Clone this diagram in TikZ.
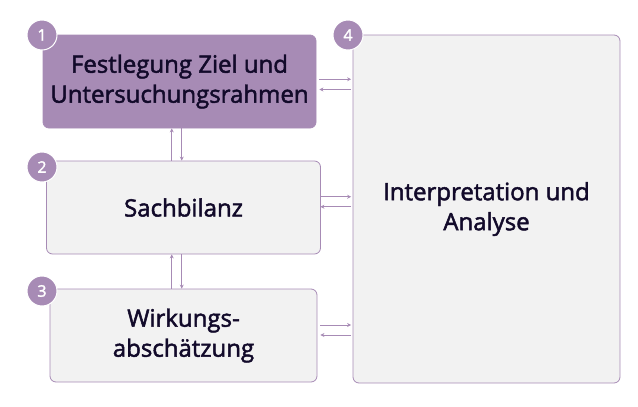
\documentclass[tikz,border=0pt]{standalone}
\usepackage{fontspec}
\setmainfont{Open Sans}
\newfontfamily\kastenschrift{Open Sans}[FakeBold=2]
\usetikzlibrary{arrows.meta}
\definecolor{lila}{HTML}{A78BB5}
\definecolor{grau}{HTML}{F2F2F2}
\definecolor{tinte}{HTML}{120A2A}

\begin{document}
\begin{tikzpicture}[x=1pt, y=-1pt,
  box/.style={draw=lila, line width=0.8pt, fill=grau, rounded corners=6pt, align=center,
    text=tinte, font=\kastenschrift\fontsize{24}{30}\selectfont, inner sep=0pt},
  nummer/.style={circle, fill=lila, draw=white, line width=1pt, minimum size=30pt, inner sep=0pt,
    text=white, font=\kastenschrift\fontsize{16}{16}\selectfont},
  pfeil/.style={draw=lila, line width=0.8pt, -{Stealth[length=4pt,width=4pt]}}]
  \useasboundingbox (0,0) rectangle (638,407);
  \node[box, fill=lila, minimum width=273pt, minimum height=93pt] (b1) at (179.5, 81.5) {Festlegung Ziel und\\Untersuchungsrahmen};
  \node[box, minimum width=274pt, minimum height=93pt] (b2) at (183.5, 207.5) {Sachbilanz};
  \node[box, minimum width=267pt, minimum height=93pt] (b3) at (183.5, 335.5) {Wirkungs-\\abschätzung};
  \node[box, minimum width=267pt, minimum height=348pt] (b4) at (486.5, 209) {Interpretation und\\Analyse};
  \node[nummer] (n1) at (42, 35) {1};
  \node[nummer] (n2) at (42, 167) {2};
  \node[nummer] (n3) at (42, 291) {3};
  \node[nummer] (n4) at (348, 35) {4};
  \draw[pfeil] ([xshift=3pt, yshift=2.2pt]b1.east) -- ([xshift=-1.5pt, yshift=2.2pt]b1.east -| b4.west);
  \draw[pfeil] ([xshift=-1.5pt, yshift=-8pt]b1.east -| b4.west) -- ([xshift=3pt, yshift=-8pt]b1.east);
  \draw[pfeil] ([xshift=-0.5pt, yshift=10.8pt]b2.east) -- ([xshift=-1.5pt, yshift=10.8pt]b2.east -| b4.west);
  \draw[pfeil] ([xshift=-1.5pt, yshift=0.8pt]b2.east -| b4.west) -- ([xshift=-0.5pt, yshift=0.8pt]b2.east);
  \draw[pfeil] ([xshift=3pt, yshift=10.5pt]b3.east) -- ([xshift=-1.5pt, yshift=10.5pt]b3.east -| b4.west);
  \draw[pfeil] ([xshift=-1.5pt, yshift=0.5pt]b3.east -| b4.west) -- ([xshift=3pt, yshift=0.5pt]b3.east);
  \draw[pfeil] ([xshift=-11.8pt]b2.north) -- ([xshift=-7.8pt]b1.south);
  \draw[pfeil] ([xshift=2.2pt]b1.south) -- ([xshift=-1.8pt]b2.north);
  \draw[pfeil] ([xshift=-11.8pt]b3.north) -- ([xshift=-11.8pt]b2.south);
  \draw[pfeil] ([xshift=-1.8pt]b2.south) -- ([xshift=-1.8pt]b3.north);
\end{tikzpicture}
\end{document}
